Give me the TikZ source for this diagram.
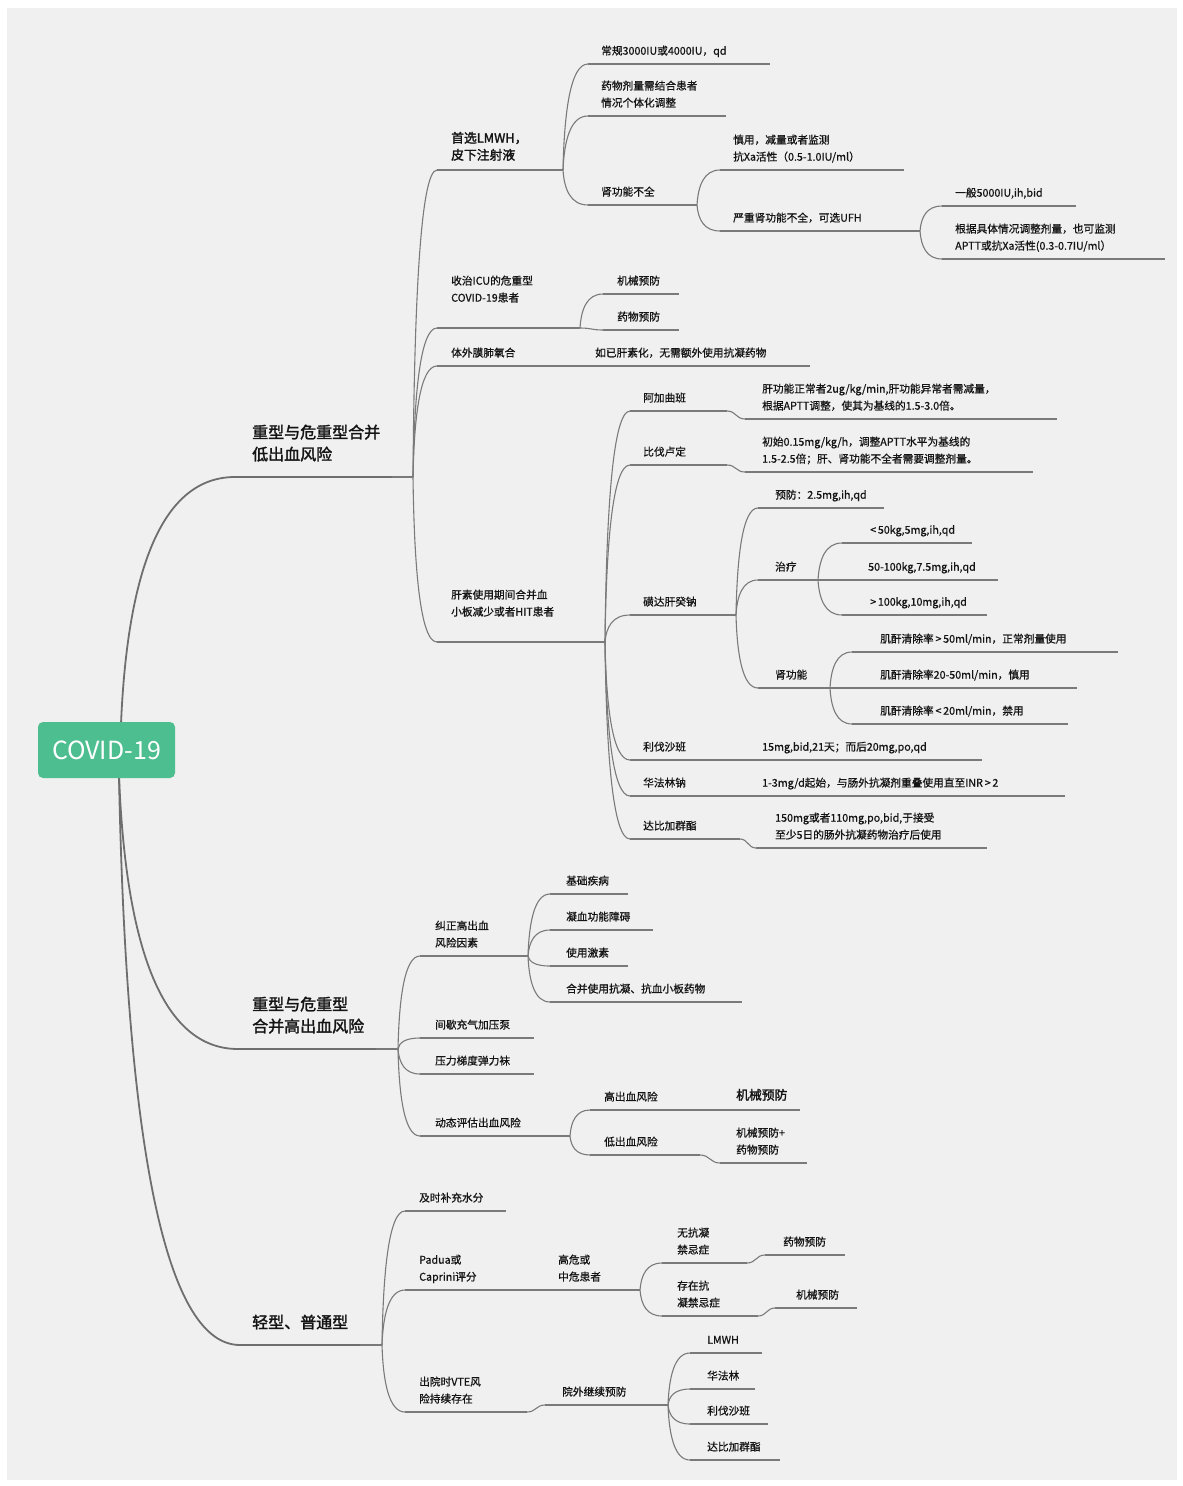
\documentclass[tikz,border=0pt]{standalone}
\usepackage{fontspec}
\newfontfamily\cjk{Noto Sans CJK SC}[FakeBold=0.8]
\newfontfamily\cjkb{Noto Sans CJK SC}[FakeBold=1.8]
\newfontfamily\rootf{Noto Sans CJK SC}
\usetikzlibrary{calc}
\definecolor{bg}{HTML}{F0F0F0}
\definecolor{lnc}{HTML}{7A7A7A}
\definecolor{lnd}{HTML}{6E6E6E}
\definecolor{txt}{HTML}{141414}
\definecolor{rootg}{HTML}{4DBE8F}
\tikzset{
  ln/.style={draw=lnc, line width=1.1pt},
  lnk/.style={draw=lnd, line width=1.8pt},
  sm/.style={inner sep=0pt, anchor=south west, align=left, text=txt, font=\cjk\fontsize{10.7}{17}\selectfont},
  up/.style={sm, yshift=17pt},
  md/.style={sm, font=\cjkb\fontsize{12.8}{17}\selectfont, yshift=1pt},
  lg/.style={sm, font=\cjkb\fontsize{16}{22}\selectfont, yshift=6pt},
  rootbox/.style={fill=rootg, rounded corners=5pt, minimum width=137pt, minimum height=56pt, inner sep=0pt, text=white, font=\rootf\fontsize{25}{28}\selectfont}
}
% #1 style, #2 name, #3 line start x, #4 line y, #5 line end x, #6 text x, #7 text
\newcommand\nd[7][sm]{%
  \coordinate (#2-s) at (#3,#4);
  \coordinate (#2-e) at (#5,#4);
  \draw[ln] (#2-s) -- (#2-e);
  \node[#1] (#2) at (#6,#4-4) {#7\strut};}
\newcommand\lk[3][ln]{\draw[#1] let \p1=(#2), \p2=(#3) in (\p1) .. controls ({\x1+0.05*(\x2-\x1)},{\y1+0.55*(\y2-\y1)}) and ({\x1+0.3*(\x2-\x1)},\y2) .. (\p2);}
\newcommand\sk[2]{\draw[ln] let \p1=(#1), \p2=(#2) in (\p1) .. controls ({0.5*(\x1+\x2)},\y1) and ({0.5*(\x1+\x2)},\y2) .. (\p2);}
\begin{document}
\begin{tikzpicture}[x=1pt,y=-1pt]
\useasboundingbox (0,0) rectangle (1183,1486);
\fill[white] (0,0) rectangle (1183,1486);
\fill[bg] (7,8) rectangle (1177,1480);

% ---------- level 1 ----------
\nd[lg]{A}{235}{477}{413}{252}{重型与危重型合并\\低出血风险}
\draw[lnk] (A-s) -- ++(157,0);
\nd[lg]{B}{238}{1049}{398}{252}{重型与危重型\\合并高出血风险}
\draw[lnk] (B-s) -- ++(138,0);
\nd[lg]{C}{240}{1345}{382}{252}{轻型、普通型}
\draw[lnk] (C-s) -- ++(120,0);

\coordinate (r-t) at (121,724);
\coordinate (r-b) at (119,776);
\lk[lnk]{r-t}{A-s}
\lk[lnk]{r-b}{B-s}
\lk[lnk]{r-b}{C-s}
\node[rootbox] (root) at (106.5,750) {COVID-19};

% ---------- branch A ----------
\nd[md]{A1}{437}{170}{563}{451}{首选LMWH，\\皮下注射液}
\nd[up]{A2}{437}{328}{580}{451}{收治ICU的危重型\\COVID-19患者}
\nd{A3}{437}{366}{590}{451}{体外膜肺氧合}
\nd{A31}{590}{366}{810}{595}{如已肝素化，无需额外使用抗凝药物}
\nd[up]{A4}{437}{642}{605}{451}{肝素使用期间合并血\\小板减少或者HIT患者}
\lk{A-e}{A1-s}\lk{A-e}{A2-s}\lk{A-e}{A3-s}\lk{A-e}{A4-s}

\nd{A11}{588}{64}{770}{601}{常规3000IU或4000IU，qd}
\nd{A12}{588}{116}{726}{601}{药物剂量需结合患者\\情况个体化调整}
\nd{A13}{588}{205}{697}{601}{肾功能不全}
\lk{A1-e}{A11-s}\lk{A1-e}{A12-s}\lk{A1-e}{A13-s}

\nd{A131}{720}{170}{904}{733}{慎用，减量或者监测\\抗Xa活性（0.5-1.0IU/ml）}
\nd{A132}{720}{231}{920}{733}{严重肾功能不全，可选UFH}
\lk{A13-e}{A131-s}\lk{A13-e}{A132-s}

\nd{A1321}{942}{206}{1076}{955}{一般5000IU,ih,bid}
\nd{A1322}{942}{259}{1165}{955}{根据具体情况调整剂量，也可监测\\APTT或抗Xa活性(0.3-0.7IU/ml）}
\lk{A132-e}{A1321-s}\lk{A132-e}{A1322-s}

\nd{A21}{603}{294}{679}{617}{机械预防}
\nd{A22}{603}{330}{679}{617}{药物预防}
\lk{A2-e}{A21-s}\sk{A2-e}{A22-s}

\nd{A41}{630}{411}{727}{643}{阿加曲班}
\nd{A411}{745}{419}{1057}{762}{肝功能正常者2ug/kg/min,肝功能异常者需减量，\\根据APTT调整，使其为基线的1.5-3.0倍。}
\sk{A41-e}{A411-s}
\nd{A42}{630}{465}{727}{643}{比伐卢定}
\nd{A421}{745}{472}{1033}{762}{初始0.15mg/kg/h，调整APTT水平为基线的\\1.5-2.5倍；肝、肾功能不全者需要调整剂量。}
\sk{A42-e}{A421-s}
\nd{A43}{630}{615}{736}{643}{磺达肝癸钠}
\nd{A44}{630}{760}{745}{643}{利伐沙班}
\nd{A441}{745}{760}{982}{762}{15mg,bid,21天；而后20mg,po,qd}
\nd{A45}{630}{796}{745}{643}{华法林钠}
\nd{A451}{745}{796}{1065}{762}{1-3mg/d起始，与肠外抗凝剂重叠使用直至INR\,>\,2}
\nd{A46}{630}{839}{740}{643}{达比加群酯}
\nd{A461}{756}{848}{987}{775}{150mg或者110mg,po,bid,于接受\\至少5日的肠外抗凝药物治疗后使用}
\sk{A46-e}{A461-s}
\lk{A4-e}{A41-s}\lk{A4-e}{A42-s}\lk{A4-e}{A43-s}\lk{A4-e}{A44-s}\lk{A4-e}{A45-s}\lk{A4-e}{A46-s}

\nd{A431}{758}{508}{884}{775}{预防：2.5mg,ih,qd}
\nd{A432}{758}{580}{818}{775}{治疗}
\nd{A433}{758}{688}{830}{775}{肾功能}
\lk{A43-e}{A431-s}\lk{A43-e}{A432-s}\lk{A43-e}{A433-s}

\nd{A4321}{842}{543}{972}{870}{<\,50kg,5mg,ih,qd}
\nd{A4322}{842}{580}{998}{868}{50-100kg,7.5mg,ih,qd}
\nd{A4323}{842}{615}{987}{870}{>\,100kg,10mg,ih,qd}
\lk{A432-e}{A4321-s}\sk{A432-e}{A4322-s}\lk{A432-e}{A4323-s}

\nd{A4331}{852}{652}{1118}{880}{肌酐清除率\,>\,50ml/min，正常剂量使用}
\nd{A4332}{852}{688}{1077}{880}{肌酐清除率20-50ml/min，慎用}
\nd{A4333}{852}{724}{1068}{880}{肌酐清除率\,<\,20ml/min，禁用}
\lk{A433-e}{A4331-s}\sk{A433-e}{A4332-s}\lk{A433-e}{A4333-s}

% ---------- branch B ----------
\nd{B1}{420}{956}{528}{435}{纠正高出血\\风险因素}
\nd{B2}{420}{1038}{534}{435}{间歇充气加压泵}
\nd{B3}{420}{1074}{534}{435}{压力梯度弹力袜}
\nd{B4}{420}{1136}{570}{435}{动态评估出血风险}
\lk{B-e}{B1-s}\lk{B-e}{B2-s}\lk{B-e}{B3-s}\lk{B-e}{B4-s}

\nd{B11}{550}{894}{628}{566}{基础疾病}
\nd{B12}{550}{930}{653}{566}{凝血功能障碍}
\nd{B13}{550}{966}{628}{566}{使用激素}
\nd{B14}{550}{1002}{742}{566}{合并使用抗凝、抗血小板药物}
\lk{B1-e}{B11-s}\lk{B1-e}{B12-s}\lk{B1-e}{B13-s}\lk{B1-e}{B14-s}

\nd{B41}{590}{1110}{722}{604}{高出血风险}
\nd[md]{B411}{722}{1110}{800}{736}{机械预防}
\nd{B42}{590}{1155}{700}{604}{低出血风险}
\nd{B421}{720}{1163}{807}{736}{机械预防+\\药物预防}
\sk{B42-e}{B421-s}
\lk{B4-e}{B41-s}\lk{B4-e}{B42-s}

% ---------- branch C ----------
\nd{C1}{405}{1211}{506}{419}{及时补充水分}
\nd{C2}{405}{1290}{545}{419}{Padua或\\Caprini评分}
\nd{C21}{545}{1290}{640}{558}{高危或\\中危患者}
\nd{C3}{405}{1412}{527}{419}{出院时VTE风\\险持续存在}
\nd{C31}{545}{1405}{668}{562}{院外继续预防}
\sk{C3-e}{C31-s}
\lk{C-e}{C1-s}\lk{C-e}{C2-s}\lk{C-e}{C3-s}

\nd{C211}{662}{1263}{747}{677}{无抗凝\\禁忌症}
\nd{C2111}{765}{1255}{845}{783}{药物预防}
\sk{C211-e}{C2111-s}
\nd{C212}{662}{1316}{758}{677}{存在抗\\凝禁忌症}
\nd{C2121}{775}{1308}{857}{796}{机械预防}
\sk{C212-e}{C2121-s}
\lk{C21-e}{C211-s}\lk{C21-e}{C212-s}

\nd{C311}{690}{1353}{762}{707}{LMWH}
\nd{C312}{690}{1389}{755}{707}{华法林}
\nd{C313}{690}{1424}{768}{707}{利伐沙班}
\nd{C314}{690}{1460}{780}{707}{达比加群酯}
\lk{C31-e}{C311-s}\lk{C31-e}{C312-s}\lk{C31-e}{C313-s}\lk{C31-e}{C314-s}
\end{tikzpicture}
\end{document}
